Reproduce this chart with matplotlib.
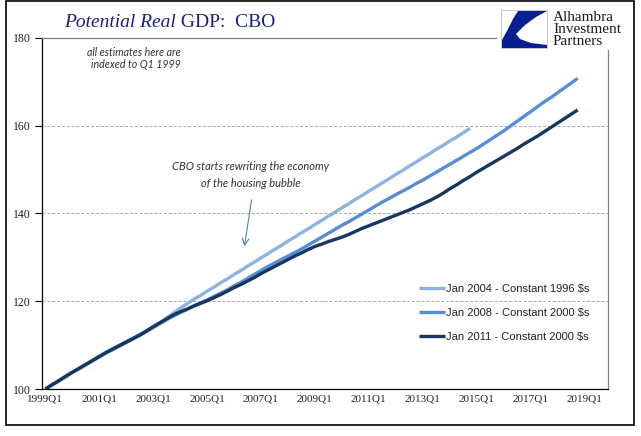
import matplotlib
matplotlib.use("Agg")
import matplotlib.pyplot as plt
from matplotlib.patches import Rectangle, Polygon

# quarterly index, 1999Q1 = 100
jan2004 = [100.0, 100.9, 101.8, 102.8, 103.8, 104.7, 105.6, 106.5, 107.5, 108.4,
           109.2, 110.0, 110.8, 111.6, 112.4, 113.3, 114.2, 115.1, 116.2, 117.3,
           118.4, 119.4, 120.4, 121.3, 122.3, 123.2, 124.2, 125.1, 126.1, 127.0,
           128.0, 128.9, 129.9, 130.8, 131.8, 132.7, 133.7, 134.6, 135.6, 136.5,
           137.5, 138.4, 139.4, 140.3, 141.3, 142.2, 143.2, 144.1, 145.1, 146.0,
           147.0, 147.9, 148.9, 149.8, 150.8, 151.7, 152.7, 153.6, 154.6, 155.5,
           156.5, 157.4, 158.4, 159.4]
jan2008 = [100.0, 100.9, 101.9, 102.8, 103.8, 104.6, 105.5, 106.4, 107.3, 108.2,
           109.0, 109.8, 110.6, 111.4, 112.2, 113.1, 114.0, 114.9, 115.8, 116.6,
           117.4, 118.1, 118.9, 119.6, 120.3, 121.1, 121.8, 122.6, 123.5, 124.3,
           125.2, 126.1, 127.0, 127.9, 128.7, 129.5, 130.3, 131.1, 131.9, 132.8,
           133.7, 134.6, 135.5, 136.4, 137.3, 138.1, 139.0, 139.9, 140.8, 141.7,
           142.6, 143.4, 144.3, 145.1, 145.9, 146.8, 147.6, 148.5, 149.4, 150.3,
           151.2, 152.1, 153.0, 153.9, 154.8, 155.8, 156.8, 157.8, 158.8, 159.9,
           161.0, 162.1, 163.2, 164.3, 165.4, 166.4, 167.5, 168.6, 169.7, 170.8]
jan2011 = [100.0, 101.0, 101.9, 102.9, 103.8, 104.7, 105.6, 106.5, 107.4, 108.3,
           109.1, 109.9, 110.7, 111.5, 112.3, 113.2, 114.2, 115.1, 116.0, 116.9,
           117.6, 118.2, 118.9, 119.5, 120.1, 120.8, 121.5, 122.3, 123.1, 123.8,
           124.6, 125.4, 126.3, 127.1, 127.9, 128.7, 129.5, 130.3, 131.0, 131.8,
           132.5, 133.0, 133.6, 134.1, 134.6, 135.2, 135.9, 136.6, 137.2, 137.8,
           138.4, 139.0, 139.6, 140.2, 140.8, 141.5, 142.2, 142.9, 143.7, 144.6,
           145.6, 146.5, 147.5, 148.4, 149.4, 150.3, 151.2, 152.1, 153.0, 153.9,
           154.8, 155.8, 156.7, 157.6, 158.6, 159.6, 160.6, 161.6, 162.6, 163.6]
n_quarters = 84  # 1999Q1 .. 2019Q4
tick_labels = ['1999Q1', '2001Q1', '2003Q1', '2005Q1', '2007Q1', '2009Q1',
               '2011Q1', '2013Q1', '2015Q1', '2017Q1', '2019Q1']
series_labels = ['Jan 2004 - Constant 1996 $s', 'Jan 2008 - Constant 2000 $s',
                 'Jan 2011 - Constant 2000 $s']
colors = ['#8db3e2', '#558ed5', '#17375e']

W, H = 641, 436
fig = plt.figure(figsize=(W / 100, H / 100), dpi=100)
ax = fig.add_axes([42 / W, 1 - 389 / H, (608 - 42) / W, (389 - 38) / H])

for vals, lab, c in zip([jan2004, jan2008, jan2011], series_labels, colors):
    ax.plot(range(len(vals)), vals, color=c, lw=2.4, label=lab, solid_capstyle='butt')

ax.set_xlim(-0.5, n_quarters - 0.5)
ax.set_ylim(100, 180)
ax.set_yticks([100, 120, 140, 160, 180])
ax.set_xticks(range(0, n_quarters, 8))
ax.set_xticklabels(tick_labels)
for t in ax.get_xticklabels():
    t.set_fontfamily('Liberation Serif')
    t.set_fontsize(8)
    t.set_color('#222222')
for t in ax.get_yticklabels():
    t.set_fontfamily('Liberation Serif')
    t.set_fontsize(8.5)
    t.set_color('#222222')
ax.tick_params(axis='x', length=0, pad=4)
ax.tick_params(axis='y', length=5, width=0.8, direction='out', pad=3)
for y in [120, 140, 160]:
    ax.axhline(y, color='#a6a6a6', lw=0.7, ls=(0, (3, 2)), zorder=0)
ax.spines['left'].set_color('black')
ax.spines['bottom'].set_color('black')
ax.spines['top'].set_color('#808080')
ax.spines['right'].set_color('#808080')
for s in ax.spines.values():
    s.set_linewidth(0.9)

leg = ax.legend(loc='upper left', bbox_to_anchor=(419 / W, 1 - 284 / H),
                bbox_transform=fig.transFigure, frameon=False,
                prop={'family': 'Liberation Sans', 'size': 8},
                handlelength=2.3, handletextpad=0.15, labelspacing=1.25,
                borderpad=0, borderaxespad=0)
for t in leg.get_texts():
    t.set_color('#222222')

# notes
note = dict(family='Lato', style='italic', color='#333333', ha='center', va='center')
fig.text(134 / W, 1 - 53 / H, 'all estimates here are', fontsize=7.7, **note)
fig.text(136 / W, 1 - 64 / H, 'indexed to Q1 1999', fontsize=7.7, **note)
fig.text(251 / W, 1 - 167 / H, 'CBO starts rewriting the economy', fontsize=8, **note)
fig.text(251 / W, 1 - 183 / H, 'of the housing bubble', fontsize=8, **note)
ax.annotate('', xy=(244 / W, 1 - 249 / H), xytext=(252 / W, 1 - 197 / H),
            xycoords='figure fraction', textcoords='figure fraction',
            arrowprops=dict(arrowstyle='->', color='#4f81bd', lw=0.8,
                            mutation_scale=12))

# title: italic part then upright part
t1 = fig.text(64 / W, 1 - 27 / H, 'Potential Real', family='Liberation Serif',
              style='italic', fontsize=14, color='#1a1f80', va='baseline')
ax.annotate(' GDP:  CBO', xy=(1, 0), xycoords=t1, va='bottom', ha='left',
            family='Liberation Serif', fontsize=14, color='#1a1f80',
            annotation_clip=False)

# logo
def px(x, y):
    return (x / W, 1 - y / H)

fig.patches.append(Rectangle(px(497, 50), 130 / W, 46 / H, transform=fig.transFigure,
                             facecolor='white', edgecolor='none', zorder=5))
fig.patches.append(Rectangle(px(501, 48), 46 / W, 38 / H, transform=fig.transFigure,
                             facecolor='white', edgecolor='#c0c0c0', lw=0.6, zorder=6))
swoosh = [px(518, 11), px(547, 11), px(536, 17), px(525, 25), px(516, 34),
          px(520, 39), px(531, 43), px(547, 45), px(547, 48), px(502, 48),
          px(502, 40), px(508, 29), px(513, 19)]
fig.patches.append(Polygon(swoosh, closed=True, transform=fig.transFigure,
                           facecolor='#0a1f8f', edgecolor='none', zorder=7))
for txt, yb in [('Alhambra', 21), ('Investment', 33), ('Partners', 45)]:
    fig.text(553 / W, 1 - yb / H, txt, family='Liberation Serif', fontsize=11,
             color='#1a1a1a', va='baseline', zorder=8)

# outer frame
fig.patches.append(Rectangle(px(6, 425), 628 / W, 424 / H, transform=fig.transFigure,
                             facecolor='none', edgecolor='black', lw=1.2, zorder=9))

fig.savefig('out.png', dpi=100)
